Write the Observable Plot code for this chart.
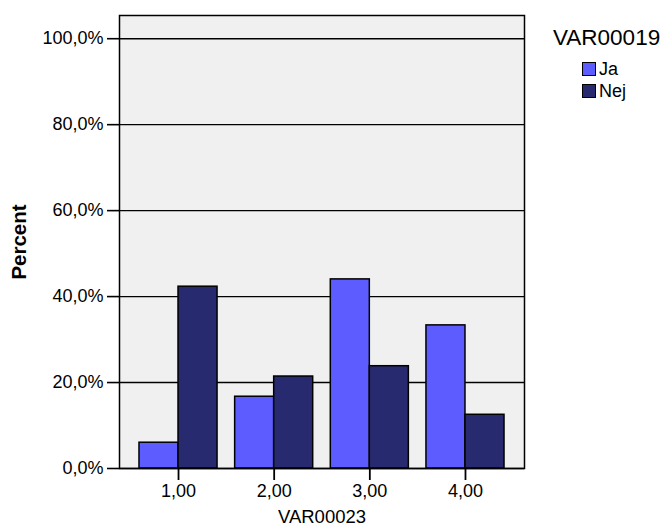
<!DOCTYPE html>
<html>
<head>
<meta charset="utf-8">
<script src="https://cdn.jsdelivr.net/npm/d3@7"></script>
<script src="https://cdn.jsdelivr.net/npm/@observablehq/plot@0.6"></script>
<style>
  html, body { margin: 0; padding: 0; background: white; }
  #wrap { position: relative; width: 667px; height: 526px; font-family: "Liberation Sans", Arial, sans-serif; }
  #legend { position: absolute; left: 553px; top: 25px; color: black; }
  #legend .title { font-size: 22.5px; line-height: 26px; }
  #legend .item { display: flex; align-items: center; font-size: 18px; line-height: 22px; margin-left: 29px; }
  #legend .sw { width: 12px; height: 12px; border: 1.5px solid black; margin-right: 3px; box-sizing: content-box; }
</style>
</head>
<body>
<div id="wrap"></div>
<script>
const categories = ["1,00", "2,00", "3,00", "4,00"];
const jaValues = [6.0, 16.7, 44.0, 33.3];
const nejValues = [42.3, 21.4, 23.8, 12.5];
const seriesNames = ["Ja", "Nej"];
const seriesColors = ["#5c5cff", "#282a70"];
const yTicks = [0, 20, 40, 60, 80, 100];
const xTitle = "VAR00023";
const yTitle = "Percent";
const legendTitle = "VAR00019";

const data = categories.flatMap((c, i) => [
  {cat: c, series: seriesNames[0], value: jaValues[i]},
  {cat: c, series: seriesNames[1], value: nejValues[i]}
]);

const W = 667, H = 526, mL = 119, mR = 143, mT = 15, mB = 58;
const pInner = 0.184, pOuter = 0.209;
const step = (W - mL - mR) / (categories.length - pInner + 2 * pOuter);
const half = step * (1 - pInner) / 2;
const fmt = d => d.toFixed(1).replace(".", ",") + "%";

const chart = Plot.plot({
  width: W, height: H,
  marginLeft: mL, marginRight: mR, marginTop: mT, marginBottom: mB,
  style: {fontFamily: "'Liberation Sans', Arial, sans-serif", background: "white", color: "black", overflow: "visible"},
  x: {type: "band", domain: categories, paddingInner: pInner, paddingOuter: pOuter, round: false, axis: null},
  y: {domain: [0, 105.4], axis: null},
  color: {domain: seriesNames, range: seriesColors},
  marks: [
    Plot.frame({fill: "#f0f0f0", stroke: "none"}),
    Plot.ruleY(yTicks, {stroke: "black", strokeWidth: 1.4}),
    Plot.barY(data.filter(d => d.series === seriesNames[0]), {x: "cat", y: "value", fill: "series", stroke: "black", strokeWidth: 1.5, insetRight: half}),
    Plot.barY(data.filter(d => d.series === seriesNames[1]), {x: "cat", y: "value", fill: "series", stroke: "black", strokeWidth: 1.5, insetLeft: half}),
    Plot.axisY(yTicks, {tickSize: 12, tickPadding: 4, tickFormat: fmt, fontSize: 18, label: null, strokeWidth: 1.6}),
    Plot.axisX({tickSize: 12, tickPadding: 4, fontSize: 18, label: null, strokeWidth: 1.8}),
    Plot.text([xTitle], {frameAnchor: "bottom", dx: 0, dy: 49, lineAnchor: "middle", textAnchor: "middle", fontSize: 18.5}),
    Plot.text([yTitle], {frameAnchor: "left", dx: -100, rotate: -90, fontSize: 20.5, fontWeight: "bold", lineAnchor: "middle", textAnchor: "middle"}),
    Plot.frame({stroke: "black", strokeWidth: 1.5})
  ]
});

const wrap = document.getElementById("wrap");
wrap.appendChild(chart);

const legend = document.createElement("div");
legend.id = "legend";
const t = document.createElement("div");
t.className = "title";
t.textContent = legendTitle;
legend.appendChild(t);
const items = document.createElement("div");
items.style.marginTop = "7px";
seriesNames.forEach((s, i) => {
  const it = document.createElement("div");
  it.className = "item";
  const sw = document.createElement("span");
  sw.className = "sw";
  sw.style.background = seriesColors[i];
  const lb = document.createElement("span");
  lb.textContent = s;
  it.appendChild(sw);
  it.appendChild(lb);
  items.appendChild(it);
});
legend.appendChild(items);
wrap.appendChild(legend);
</script>
</body>
</html>
